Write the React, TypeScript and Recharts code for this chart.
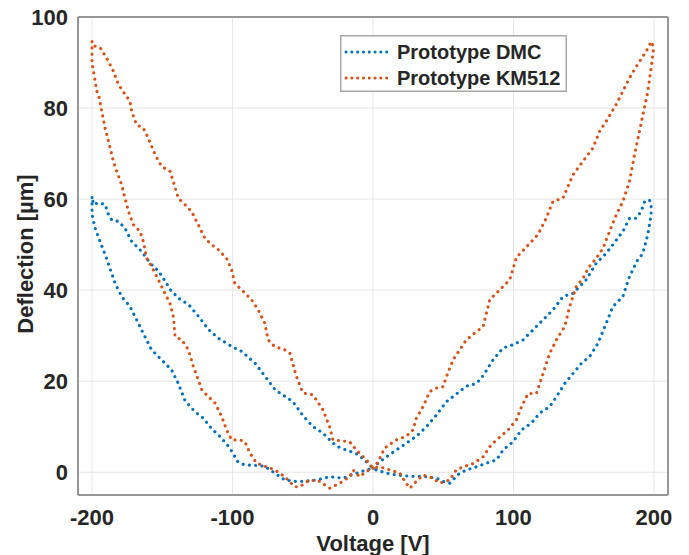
import { LineChart, Line, XAxis, YAxis, CartesianGrid, Legend } from 'recharts'

// Prototype DMC: 0 -> +200 -> 0 -> -200 -> 0
const dmcPosUpV = [0, 3.6, 9.6, 16.7, 23.8, 30.9, 38, 45.2, 52.3, 59.4, 66.5, 73.7, 78.4, 85.5, 92.6, 99.7, 106.9, 114, 121.1, 128.2, 135.3, 142.4, 151.8, 158.9, 166, 170.8, 177.9, 182.6, 187.3, 190.9, 193.3, 196.8, 198]
const dmcPosUpD = [0.9, 2, 3.4, 4.9, 6.4, 7.9, 10, 12.6, 15.5, 17.2, 18.9, 19.5, 21.2, 24.7, 27.3, 28, 29.1, 31.3, 33.5, 35.7, 38.6, 39.3, 42.3, 45.9, 48.1, 50, 52.9, 55.8, 55.8, 57.3, 59.4, 59.8, 58.7]
const dmcPosDownV = [198, 195.6, 192, 188.5, 182.6, 177.9, 170.8, 166, 160.1, 154.2, 148.3, 142.4, 136.5, 130.6, 125.8, 118.7, 112.8, 105.7, 99.7, 92.6, 87.9, 80.8, 73.7, 66.6, 61.7, 54.6, 49.9, 45.2, 35.7, 26.3, 16.8, 9.6, 2.4, 0]
const dmcPosDownD = [56.5, 52.2, 48, 46.7, 43, 38.6, 36.4, 32.7, 28.3, 25.4, 23.9, 21.7, 19.5, 16.6, 14.4, 13, 10.8, 9.3, 6.7, 4.9, 2.7, 2, 1.2, 0.5, -0.2, -2.4, -2, -1.3, -0.9, -0.9, -0.6, -0.2, 0.5, 0.9]
const dmcNegUpV = [-3.6, -10.7, -16.6, -23.7, -28.5, -35.6, -42.7, -49.5, -57, -69.6, -76.7, -83.8, -93.3, -100.4, -109.9, -117, -124.1, -131.2, -138.3, -144.3, -147.8, -152.5, -158.5, -164.7, -171.8, -176.5, -181.2, -185.9, -188.3, -190.7, -195.4, -199, -200]
const dmcNegUpD = [2, 3.9, 4.6, 5.4, 6.4, 8.6, 10, 12.3, 15.5, 18.1, 21, 23.9, 26.5, 27.6, 29.4, 31.3, 34.2, 36.8, 38.2, 40.1, 41.9, 44.1, 45.9, 48.5, 50.7, 53.6, 55.1, 55.4, 56.6, 58.8, 59.2, 58.8, 60.6]
const dmcNegDownV = [-200, -197.8, -194.3, -190.7, -188.5, -183.6, -178.9, -173, -168.3, -163.5, -157.6, -150.5, -143.4, -138.6, -133.9, -126.8, -120.9, -114.9, -107.8, -101.9, -96, -91.2, -84.1, -77, -69.9, -62.8, -55.7, -49.8, -40.3, -30.8, -21.3, -11.8, -4.7, 0]
const dmcNegDownD = [56.6, 53.6, 50.7, 47.8, 45.9, 41.5, 38.6, 36.4, 33.5, 30.5, 26.9, 24.7, 22.5, 19.5, 15.8, 13.3, 11.9, 9.6, 7.5, 5.3, 2.2, 1.6, 1.5, 1.3, -0.2, -1.7, -2, -2, -1.7, -1, -1.3, -0.2, 0.5, 0.9]

// Prototype KM512: same sweep
const kmPosUpV = [0, 3.6, 8.3, 16.6, 23.7, 28.5, 30.9, 35.6, 40.4, 45.1, 49.9, 52.3, 57, 61.8, 66.5, 73.7, 78.4, 83.1, 90.3, 97.4, 102.1, 109.2, 117.4, 123.3, 128.1, 135.2, 142.3, 149.4, 156.5, 161.3, 166, 173.1, 179, 183.8, 189.7, 194.4, 198, 199.5]
const kmPosUpD = [0.9, 2.3, 5.3, 7.1, 7.9, 9.3, 11.9, 14.4, 17.7, 18.5, 18.8, 21, 24.7, 26.9, 29.1, 30.9, 32, 37.9, 40.1, 42.3, 47.2, 49.5, 52.2, 55.8, 59.5, 60.2, 65.3, 68.3, 71.2, 74.9, 77.1, 80.8, 84.4, 87.3, 90.2, 92.4, 94.6, 93.5]
const kmPosDownV = [199.5, 198, 195.6, 192.1, 189.7, 186.2, 182.6, 177.9, 173.1, 168.4, 163.7, 158.9, 153.5, 149.5, 144.7, 140, 136.5, 130.6, 125.8, 121.1, 116.3, 110.4, 105.7, 102.1, 96.2, 87.9, 83.1, 78.4, 71.3, 64.2, 59.3, 54.6, 47.5, 42.7, 35.6, 30.9, 26.2, 22.7, 19.1, 12, 4.7, 0]
const kmPosDownD = [92.4, 88.8, 83.6, 78.5, 74.9, 69.8, 63.9, 59.5, 56.5, 52.9, 49.2, 47, 45, 42.6, 40.8, 36.4, 32, 29.1, 26.1, 21.7, 17.3, 17.3, 14.4, 11.5, 9.3, 7.1, 5.6, 3.4, 1.9, 1.2, 0.5, -1.7, -2.4, -1.3, -0.6, -2, -3.5, -2, -0.2, 0.5, 1.2, 0.9]
const kmNegUpV = [-4.7, -11.9, -16.6, -28.5, -30.9, -35.6, -42.7, -49.8, -54.5, -59.2, -62.8, -70, -74.7, -77, -81.8, -86.5, -93.6, -98.4, -100.7, -104.3, -110.2, -114.9, -119.7, -124.4, -129.2, -133.9, -138.6, -142.2, -144.5, -150.5, -155.2, -159.9, -163.5, -168.3, -171.8, -173, -176.5, -181.3, -184.8, -188.4, -191.9, -194.3, -197.8, -200]
const kmNegUpD = [2.7, 4.9, 6.7, 7.1, 10, 13.7, 17, 17.4, 21, 26.2, 26.9, 27.6, 29.1, 32.7, 35.7, 37.9, 40.1, 41.5, 44.5, 47, 48.9, 50, 51.4, 54.4, 57.3, 58.8, 60.2, 63.9, 66.1, 67.2, 69.8, 73.4, 75.6, 76.3, 79.3, 81.5, 83, 85.2, 88.1, 90.3, 92.1, 93.3, 93.6, 94.7]
const kmNegDownV = [-200, -199, -196.6, -195.4, -193.1, -190.7, -188.3, -184.8, -182.4, -178.9, -176.5, -174.1, -170.6, -165.8, -163.5, -161.1, -157.6, -152.8, -148.1, -144.5, -142.1, -140.9, -136.2, -131.4, -127.9, -124.3, -121.9, -117.2, -112.4, -107.7, -104.2, -100.6, -94.7, -91.2, -87.6, -82.9, -77, -69.9, -62.8, -55.7, -52.2, -48.6, -45.1, -38, -30.8, -23.7, -16.6, -14.2, -9.5, -4.7, 0]
const kmNegDownD = [89.7, 88.1, 83.7, 83, 79.3, 75.6, 72.7, 68.3, 66.1, 63.1, 60.2, 57.3, 54.4, 52.9, 50.7, 47, 45.2, 42.3, 39.3, 37.1, 34.2, 29.8, 29.1, 26.9, 23.2, 20.3, 18.1, 16.6, 15.2, 12.2, 9.3, 7.1, 7.1, 6.7, 4.2, 2, 1.3, 0.5, -1, -3.2, -3.2, -2.4, -1.7, -2, -3.5, -2.4, -1, 0.5, -1, 0.2, 0.9]

const xTicks = [-200, -100, 0, 100, 200]
const yTicks = [0, 20, 40, 60, 80, 100]

const BLUE = '#0072BD'
const ORANGE = '#D95319'
const AXIS = '#7a7a7a'
const TEXT = '#262626'
const FONT = '"Liberation Sans", Arial, Helvetica, sans-serif'

const toPoints = (parts: [number[], number[]][]) =>
  parts.flatMap(([vs, ds]) => vs.map((v, i) => ({ v, d: ds[i] })))

const dmc = toPoints([[dmcPosUpV, dmcPosUpD], [dmcPosDownV, dmcPosDownD], [dmcNegUpV, dmcNegUpD], [dmcNegDownV, dmcNegDownD]])
const km512 = toPoints([[kmPosUpV, kmPosUpD], [kmPosDownV, kmPosDownD], [kmNegUpV, kmNegUpD], [kmNegDownV, kmNegDownD]])

const legendItems = [
  { name: 'Prototype DMC', color: BLUE },
  { name: 'Prototype KM512', color: ORANGE },
]

function LegendBox() {
  return (
    <svg width={227} height={57} style={{ display: 'block' }}>
      <rect x={0.75} y={0.75} width={225.5} height={55.5} fill="#fff" stroke="#a8a8a8" strokeWidth={1.5} />
      {legendItems.map((s, i) => (
        <g key={s.name}>
          <line x1={6} x2={52} y1={17 + i * 26} y2={17 + i * 26} stroke={s.color} strokeWidth={3} strokeDasharray="0.1 5.7" strokeLinecap="round" />
          <text x={57} y={23.5 + i * 26} fill={TEXT} fontSize={20} fontWeight={700} fontFamily={FONT}>{s.name}</text>
        </g>
      ))}
    </svg>
  )
}

const tickStyle = { fill: TEXT, fontSize: 22, fontWeight: 700, fontFamily: FONT }
const lineStyle = { strokeWidth: 3.1, strokeDasharray: '0.1 6.2', strokeLinecap: 'round' as const }

export default function App() {
  return (
    <div style={{ position: 'absolute', left: 0, top: 0, width: 689, height: 555, background: '#fff' }}>
      <LineChart width={689} height={555} margin={{ top: 17, right: 21, bottom: 0, left: 0 }}>
        <CartesianGrid xAxisId="x" yAxisId="y" stroke="#e6e6e6" strokeWidth={1} />
        <XAxis
          xAxisId="x" type="number" dataKey="v" domain={[-210, 210]} ticks={xTicks} height={60}
          tickLine={false} tickSize={5} tickMargin={9.5} axisLine={{ stroke: AXIS, strokeWidth: 1.5 }}
          tick={tickStyle}
          label={{ value: 'Voltage [V]', position: 'insideBottom', offset: 4, fill: TEXT, fontSize: 22, fontWeight: 700, fontFamily: FONT }}
        />
        <XAxis xAxisId="xin" type="number" domain={[-210, 210]} ticks={xTicks} mirror tick={false} tickSize={4} axisLine={false} tickLine={{ stroke: AXIS, strokeWidth: 1 }} />
        <XAxis xAxisId="xtop" orientation="top" type="number" domain={[-210, 210]} ticks={xTicks} mirror tick={false} tickSize={4} axisLine={{ stroke: AXIS, strokeWidth: 1.5 }} tickLine={{ stroke: AXIS, strokeWidth: 1 }} />
        <YAxis
          yAxisId="y" type="number" domain={[-5, 100]} ticks={yTicks} width={78}
          tickLine={false} tickSize={5} tickMargin={5} axisLine={{ stroke: AXIS, strokeWidth: 1.5 }}
          tick={tickStyle}
          label={{ value: 'Deflection [µm]', angle: -90, position: 'insideLeft', offset: 25.5, dy: -2, fill: TEXT, fontSize: 22, fontWeight: 700, fontFamily: FONT, style: { textAnchor: 'middle' } }}
        />
        <YAxis yAxisId="yin" type="number" domain={[-5, 100]} ticks={yTicks} mirror tick={false} tickSize={4} axisLine={false} tickLine={{ stroke: AXIS, strokeWidth: 1 }} />
        <YAxis yAxisId="yr" orientation="right" type="number" domain={[-5, 100]} ticks={yTicks} mirror tick={false} tickSize={4} axisLine={{ stroke: AXIS, strokeWidth: 1.5 }} tickLine={{ stroke: AXIS, strokeWidth: 1 }} />
        <Legend
          layout="vertical" align="center" verticalAlign="middle"
          wrapperStyle={{ left: 340, top: 35, width: 227, height: 57 }}
          content={() => <LegendBox />}
        />
        <Line xAxisId="x" yAxisId="y" data={dmc} dataKey="d" name="Prototype DMC" type="linear" stroke={BLUE} {...lineStyle} dot={false} activeDot={false} isAnimationActive={false} />
        <Line xAxisId="x" yAxisId="y" data={km512} dataKey="d" name="Prototype KM512" type="linear" stroke={ORANGE} {...lineStyle} dot={false} activeDot={false} isAnimationActive={false} />
      </LineChart>
    </div>
  )
}
